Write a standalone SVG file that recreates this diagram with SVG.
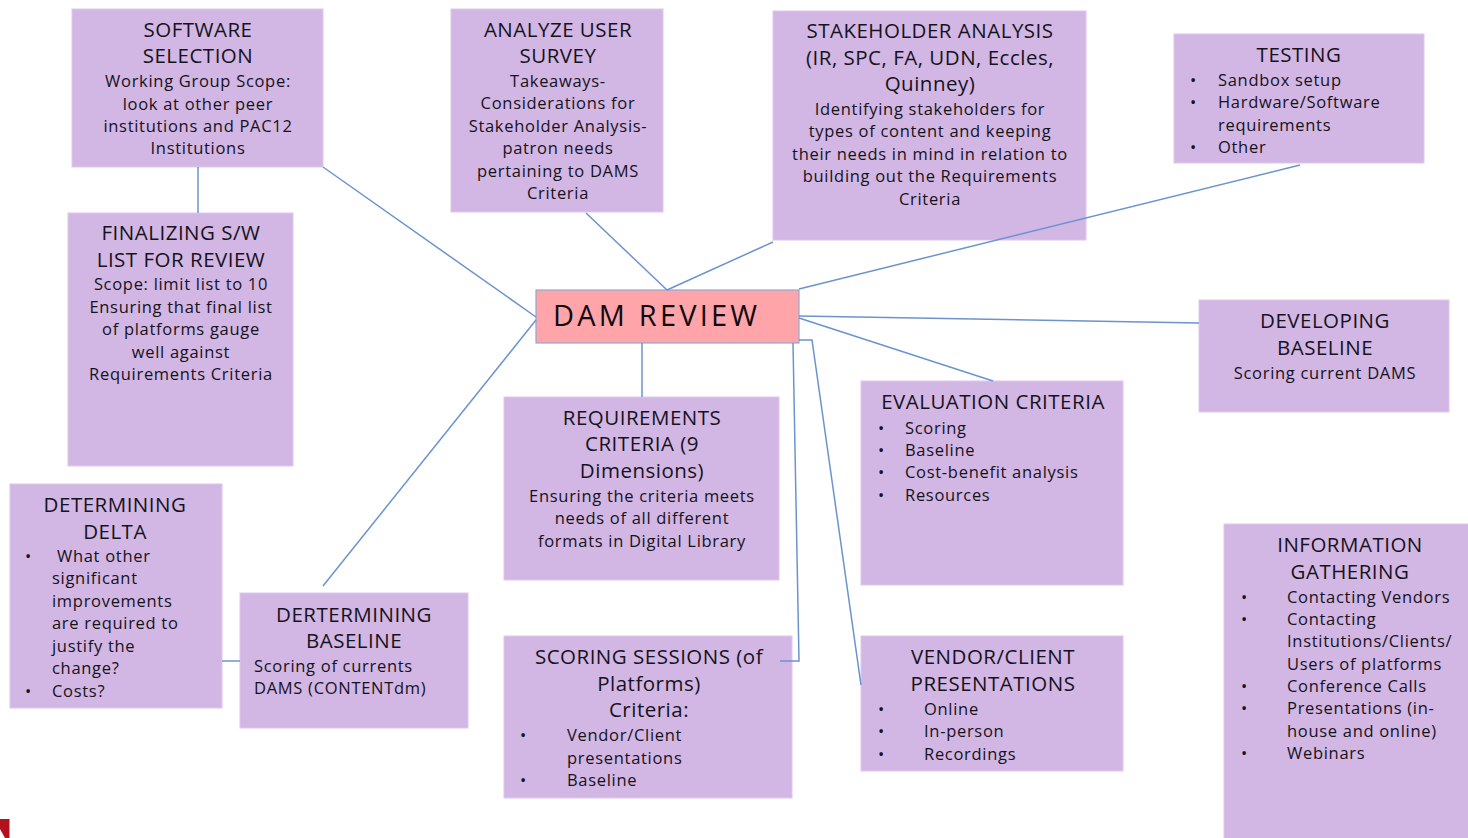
<svg xmlns="http://www.w3.org/2000/svg" width="1468" height="838" viewBox="0 0 1468 838">
<style>
.box{fill:#d2b6e3;stroke:#dcc8ea;stroke-width:1}
.dam{fill:#ffa4a8;stroke:#8eaad8;stroke-width:1.2}
.t{font-family:"Open Sans","Liberation Sans",sans-serif;font-size:20.5px;letter-spacing:0.5px;fill:#15131c;text-anchor:middle}
.b{font-family:"Open Sans","Liberation Sans",sans-serif;font-size:16.5px;letter-spacing:0.7px;fill:#15131c;text-anchor:middle}
.l{font-family:"Open Sans","Liberation Sans",sans-serif;font-size:16.5px;letter-spacing:0.7px;fill:#15131c}
.c{fill:none;stroke:#6b93cf;stroke-width:1.5}
</style>
<rect width="1468" height="838" fill="#ffffff"/>

<g id="software-selection">
<rect class="box" x="72" y="9" width="251" height="158"/>
<text class="t" x="198" y="37">SOFTWARE</text>
<text class="t" x="198" y="63">SELECTION</text>
<text class="b" x="198" y="87">Working Group Scope:</text>
<text class="b" x="198" y="110">look at other peer</text>
<text class="b" x="198" y="132">institutions and PAC12</text>
<text class="b" x="198" y="154">Institutions</text>
</g>

<g id="analyze-user-survey">
<rect class="box" x="451" y="9" width="212" height="203"/>
<text class="t" x="558" y="37">ANALYZE USER</text>
<text class="t" x="558" y="63">SURVEY</text>
<text class="b" x="558" y="87">Takeaways-</text>
<text class="b" x="558" y="109">Considerations for</text>
<text class="b" x="558" y="132">Stakeholder Analysis-</text>
<text class="b" x="558" y="154">patron needs</text>
<text class="b" x="558" y="177">pertaining to DAMS</text>
<text class="b" x="558" y="199">Criteria</text>
</g>

<g id="stakeholder-analysis">
<rect class="box" x="773" y="11" width="313" height="229"/>
<text class="t" x="930" y="38">STAKEHOLDER ANALYSIS</text>
<text class="t" x="930" y="65">(IR, SPC, FA, UDN, Eccles,</text>
<text class="t" x="930" y="91">Quinney)</text>
<text class="b" x="930" y="115">Identifying stakeholders for</text>
<text class="b" x="930" y="137">types of content and keeping</text>
<text class="b" x="930" y="160">their needs in mind in relation to</text>
<text class="b" x="930" y="182">building out the Requirements</text>
<text class="b" x="930" y="205">Criteria</text>
</g>

<g id="testing">
<rect class="box" x="1174" y="34" width="250" height="129"/>
<text class="t" x="1299" y="62">TESTING</text>
<text class="l" x="1190" y="86">•</text>
<text class="l" x="1218" y="86">Sandbox setup</text>
<text class="l" x="1190" y="108">•</text>
<text class="l" x="1218" y="108">Hardware/Software</text>
<text class="l" x="1218" y="131">requirements</text>
<text class="l" x="1190" y="153">•</text>
<text class="l" x="1218" y="153">Other</text>
</g>

<g id="dam-review">
<rect class="dam" x="536" y="290" width="263" height="53"/>
<text x="553" y="326" font-family="Open Sans, Liberation Sans, sans-serif" font-size="29" letter-spacing="3.2" fill="#0e0b12">DAM REVIEW</text>
</g>

<g id="finalizing-sw-list">
<rect class="box" x="68" y="213" width="225" height="253"/>
<text class="t" x="181" y="240">FINALIZING S/W</text>
<text class="t" x="181" y="267">LIST FOR REVIEW</text>
<text class="b" x="181" y="290">Scope: limit list to 10</text>
<text class="b" x="181" y="313">Ensuring that final list</text>
<text class="b" x="181" y="335">of platforms gauge</text>
<text class="b" x="181" y="358">well against</text>
<text class="b" x="181" y="380">Requirements Criteria</text>
</g>

<g id="developing-baseline">
<rect class="box" x="1199" y="300" width="250" height="112"/>
<text class="t" x="1325" y="328">DEVELOPING</text>
<text class="t" x="1325" y="355">BASELINE</text>
<text class="b" x="1325" y="379">Scoring current DAMS</text>
</g>

<g id="requirements-criteria">
<rect class="box" x="504" y="397" width="275" height="183"/>
<text class="t" x="642" y="425">REQUIREMENTS</text>
<text class="t" x="642" y="451">CRITERIA (9</text>
<text class="t" x="642" y="478">Dimensions)</text>
<text class="b" x="642" y="502">Ensuring the criteria meets</text>
<text class="b" x="642" y="524">needs of all different</text>
<text class="b" x="642" y="547">formats in Digital Library</text>
</g>

<g id="evaluation-criteria">
<rect class="box" x="861" y="381" width="262" height="204"/>
<text class="t" x="993" y="409">EVALUATION CRITERIA</text>
<text class="l" x="878" y="434">•</text>
<text class="l" x="905" y="434">Scoring</text>
<text class="l" x="878" y="456">•</text>
<text class="l" x="905" y="456">Baseline</text>
<text class="l" x="878" y="478">•</text>
<text class="l" x="905" y="478">Cost-benefit analysis</text>
<text class="l" x="878" y="501">•</text>
<text class="l" x="905" y="501">Resources</text>
</g>

<g id="determining-delta">
<rect class="box" x="10" y="484" width="212" height="224"/>
<text class="t" x="115" y="512">DETERMINING</text>
<text class="t" x="115" y="539">DELTA</text>
<text class="l" x="25" y="562">•</text>
<text class="l" x="57" y="562">What other</text>
<text class="l" x="52" y="584">significant</text>
<text class="l" x="52" y="607">improvements</text>
<text class="l" x="52" y="629">are required to</text>
<text class="l" x="52" y="652">justify the</text>
<text class="l" x="52" y="674">change?</text>
<text class="l" x="25" y="697">•</text>
<text class="l" x="52" y="697">Costs?</text>
</g>

<g id="determining-baseline">
<rect class="box" x="240" y="593" width="228" height="135"/>
<text class="t" x="354" y="622">DERTERMINING</text>
<text class="t" x="354" y="648">BASELINE</text>
<text class="l" x="254" y="672">Scoring of currents</text>
<text class="l" x="254" y="694">DAMS (CONTENTdm)</text>
</g>

<g id="scoring-sessions">
<rect class="box" x="504" y="636" width="288" height="162"/>
<text class="t" x="649" y="664">SCORING SESSIONS (of</text>
<text class="t" x="649" y="691">Platforms)</text>
<text class="t" x="649" y="717">Criteria:</text>
<text class="l" x="520" y="741">•</text>
<text class="l" x="567" y="741">Vendor/Client</text>
<text class="l" x="567" y="764">presentations</text>
<text class="l" x="520" y="786">•</text>
<text class="l" x="567" y="786">Baseline</text>
</g>

<g id="vendor-client-presentations">
<rect class="box" x="861" y="636" width="262" height="135"/>
<text class="t" x="993" y="664">VENDOR/CLIENT</text>
<text class="t" x="993" y="691">PRESENTATIONS</text>
<text class="l" x="878" y="715">•</text>
<text class="l" x="924" y="715">Online</text>
<text class="l" x="878" y="737">•</text>
<text class="l" x="924" y="737">In-person</text>
<text class="l" x="878" y="760">•</text>
<text class="l" x="924" y="760">Recordings</text>
</g>

<g id="information-gathering">
<rect class="box" x="1224" y="524" width="250" height="320"/>
<text class="t" x="1350" y="552">INFORMATION</text>
<text class="t" x="1350" y="579">GATHERING</text>
<text class="l" x="1241" y="603">•</text>
<text class="l" x="1287" y="603">Contacting Vendors</text>
<text class="l" x="1241" y="625">•</text>
<text class="l" x="1287" y="625">Contacting</text>
<text class="l" x="1287" y="647">Institutions/Clients/</text>
<text class="l" x="1287" y="670">Users of platforms</text>
<text class="l" x="1241" y="692">•</text>
<text class="l" x="1287" y="692">Conference Calls</text>
<text class="l" x="1241" y="714">•</text>
<text class="l" x="1287" y="714">Presentations (in-</text>
<text class="l" x="1287" y="737">house and online)</text>
<text class="l" x="1241" y="759">•</text>
<text class="l" x="1287" y="759">Webinars</text>
</g>

<g id="connectors">
<line class="c" x1="198" y1="167" x2="198" y2="213"/>
<line class="c" x1="323" y1="167" x2="536" y2="317"/>
<line class="c" x1="586" y1="213" x2="667" y2="290"/>
<line class="c" x1="773" y1="242" x2="667" y2="290"/>
<line class="c" x1="1300" y1="165" x2="799" y2="289"/>
<line class="c" x1="799" y1="316" x2="1199" y2="323"/>
<line class="c" x1="799" y1="318" x2="993" y2="381"/>
<polyline class="c" points="799,340 812,340 861,685"/>
<polyline class="c" points="793,343 799,661 780,661"/>
<line class="c" x1="642" y1="343" x2="642" y2="397"/>
<line class="c" x1="536" y1="320" x2="323" y2="586"/>
<line class="c" x1="222" y1="661" x2="240" y2="661"/>
</g>

<polygon points="0,819 9.5,819 9.5,838 5,838 0,829" fill="#b3121d"/>
</svg>
